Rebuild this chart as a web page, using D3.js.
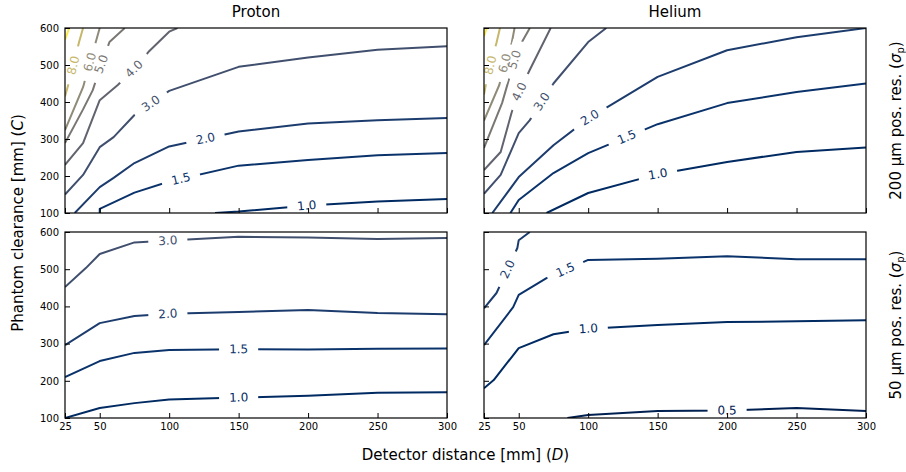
<!DOCTYPE html>
<html>
<head>
<meta charset="utf-8">
<script src="https://cdn.jsdelivr.net/npm/d3@7"></script>
<style>
  body { margin: 0; background: #fff; }
  svg { display: block; font-family: "DejaVu Sans", sans-serif; }
</style>
</head>
<body>
<div id="chart"></div>
<script>
// contour levels shared by all four panels (colour norm runs over this range)
const levels = [0.5, 1, 1.5, 2, 3, 4, 5, 6, 8, 10];
const xTicks = [25, 50, 100, 150, 200, 250, 300];
const yTicks = [100, 200, 300, 400, 500, 600];
const columnTitles = ['Proton', 'Helium'];
const rowTitles = ['200 μm pos. res.', '50 μm pos. res.'];

// contour paths: [detector distance D, phantom clearance C]
const protonRes200 = [
  { level: 10,  points: [[25,568],[28,600]] },
  { level: 8,   points: [[25,415],[29,468],[32,515],[35,560],[38,600]] },
  { level: 6,   points: [[25,324],[38,440],[43,508],[47,560],[50,600]] },
  { level: 5,   points: [[25,289],[38,380],[45,432],[50,490],[57,562],[68,600]] },
  { level: 4,   points: [[25,230],[38,289],[50,405],[63,446],[75,490],[85,535],[100,590],[106,600]] },
  { level: 3,   points: [[25,150],[38,203],[50,278],[60,305],[75,365],[100,430],[150,495],[200,520],[250,541],[300,551]] },
  { level: 2,   points: [[32,100],[50,170],[60,195],[75,235],[100,280],[150,320],[200,342],[250,351],[300,357]] },
  { level: 1.5, points: [[50,100],[50,111],[75,155],[100,185],[150,228],[200,243],[250,256],[300,262]] },
  { level: 1,   points: [[133,100],[150,104],[200,120],[250,131],[300,138]] }
];
const heliumRes200 = [
  { level: 10,  points: [[25,578],[27,600]] },
  { level: 8,   points: [[25,420],[27,460],[30,505],[34,560],[36.5,600]] },
  { level: 6,   points: [[25,350],[36,446],[40,505],[45,560],[47,600]] },
  { level: 5,   points: [[25,276],[38,397],[47,514],[52,560],[58,600]] },
  { level: 4,   points: [[25,216],[37,265],[45,373],[50,425],[58,487],[73,600]] },
  { level: 3,   points: [[25,152],[37,203],[50,316],[58,351],[75,450],[100,562],[113,600]] },
  { level: 2,   points: [[31,100],[50,197],[75,283],[100,355],[150,468],[200,540],[250,575],[300,600]] },
  { level: 1.5, points: [[44,100],[50,135],[75,208],[100,262],[150,340],[200,397],[250,427],[300,450]] },
  { level: 1,   points: [[70,100],[100,154],[150,205],[200,238],[250,265],[300,277]] }
];
const protonRes50 = [
  { level: 3,   points: [[25,452],[40,503],[50,541],[75,572],[100,577],[150,587],[200,585],[250,581],[300,584]] },
  { level: 2,   points: [[25,296],[50,355],[75,374],[100,380],[150,385],[200,390],[250,382],[300,379]] },
  { level: 1.5, points: [[25,210],[50,253],[75,275],[100,283],[150,285],[200,284],[250,286],[300,287]] },
  { level: 1,   points: [[25,100],[50,127],[75,140],[100,150],[150,155],[200,160],[250,168],[300,169]] }
];
const heliumRes50 = [
  { level: 2,   points: [[25,395],[34,436],[42,500],[49,557],[50,578],[58,600]] },
  { level: 1.5, points: [[25,296],[46,398],[50,431],[70,476],[100,525],[150,528],[200,535],[250,527],[300,527]] },
  { level: 1,   points: [[25,180],[32,202],[50,288],[75,325],[100,340],[150,350],[200,358],[250,360],[300,363]] },
  { level: 0.5, points: [[85,100],[100,108],[150,119],[200,120],[250,127],[300,119]] }
];

// where the inline labels sit: [level, D, C]
const protonRes200Labels = [[8,30,500],[6,43,508],[5,49,505],[4,74,492],[3,86,400],[2,126,303],[1.5,108,200],[1,199,122]];
const heliumRes200Labels = [[8,29,500],[6,40,505],[5,47,514],[4,51,427],[3,67,400],[2,100,365],[1.5,128,303],[1,150,208]];
const protonRes50Labels  = [[3,99,578],[2,99,382],[1.5,150,285],[1,150,155]];
const heliumRes50Labels  = [[2,42,500],[1.5,83,503],[1,100,345],[0.5,200,120]];

const width = 906;
const height = 472;
const colX = [[65, 447], [484, 866]];
const rowY = [[28, 213], [232, 418]];

const svg = d3.select('#chart').append('svg')
  .attr('width', width)
  .attr('height', height);
const defs = svg.append('defs');

const color = d3.scaleSequential(d3.interpolateCividis)
  .domain(d3.extent(levels));
const fmt = d3.format('.1f');

const panels = [
  { row: 0, col: 0, lines: protonRes200, labels: protonRes200Labels },
  { row: 0, col: 1, lines: heliumRes200, labels: heliumRes200Labels },
  { row: 1, col: 0, lines: protonRes50,  labels: protonRes50Labels },
  { row: 1, col: 1, lines: heliumRes50,  labels: heliumRes50Labels }
];

panels.forEach((p, i) => {
  const [x0, x1] = colX[p.col];
  const [y0, y1] = rowY[p.row];
  const x = d3.scaleLinear().domain([25, 300]).range([x0, x1]);
  const y = d3.scaleLinear().domain([100, 600]).range([y1, y0]);

  defs.append('clipPath').attr('id', 'clip' + i)
    .append('rect')
    .attr('x', x0).attr('y', y0)
    .attr('width', x1 - x0).attr('height', y1 - y0);

  const mask = defs.append('mask').attr('id', 'mask' + i)
    .attr('maskUnits', 'userSpaceOnUse')
    .attr('x', 0).attr('y', 0).attr('width', width).attr('height', height);
  mask.append('rect')
    .attr('width', width).attr('height', height)
    .attr('fill', 'white');

  const line = d3.line().x(d => x(d[0])).y(d => y(d[1]));

  svg.append('g')
    .attr('clip-path', `url(#clip${i})`)
    .append('g')
    .attr('mask', `url(#mask${i})`)
    .selectAll('path')
    .data(p.lines)
    .join('path')
    .attr('d', d => line(d.points))
    .attr('fill', 'none')
    .attr('stroke', d => color(d.level))
    .attr('stroke-width', 2)
    .attr('stroke-linejoin', 'round');

  // inline labels: snap to nearest point on the line, rotate along it,
  // and cut a gap out of the line through the mask
  const labelG = svg.append('g');
  p.labels.forEach(([lvl, D, C]) => {
    const ln = p.lines.find(l => l.level === lvl);
    const pts = ln.points.map(q => [x(q[0]), y(q[1])]);
    const tx = x(D), ty = y(C);
    let best = { dist: Infinity };
    for (let k = 0; k < pts.length - 1; k++) {
      const [ax, ay] = pts[k], [bx, by] = pts[k + 1];
      const dx = bx - ax, dy = by - ay;
      const len2 = dx * dx + dy * dy || 1;
      const t = Math.max(0, Math.min(1, ((tx - ax) * dx + (ty - ay) * dy) / len2));
      const px = ax + t * dx, py = ay + t * dy;
      const dist = Math.hypot(px - tx, py - ty);
      if (dist < best.dist) best = { dist, px, py, dx, dy };
    }
    let ang = Math.atan2(best.dy, best.dx) * 180 / Math.PI;
    if (ang > 90) ang -= 180;
    if (ang < -90) ang += 180;
    const tr = `translate(${best.px},${best.py}) rotate(${ang})`;

    const t = labelG.append('text')
      .attr('transform', tr)
      .attr('text-anchor', 'middle')
      .attr('dominant-baseline', 'central')
      .attr('font-size', '12px')
      .attr('fill', color(lvl))
      .text(fmt(lvl));
    const w = t.node().getComputedTextLength();
    mask.append('rect')
      .attr('transform', tr)
      .attr('x', -w / 2 - 10).attr('y', -7)
      .attr('width', w + 20).attr('height', 14)
      .attr('fill', 'black');
  });

  // axes with inward ticks
  const ax = svg.append('g')
    .attr('transform', `translate(0,${y1})`)
    .call(d3.axisBottom(x).tickValues(xTicks).tickSizeInner(-5).tickSizeOuter(0).tickPadding(5));
  const ay = svg.append('g')
    .attr('transform', `translate(${x0},0)`)
    .call(d3.axisLeft(y).tickValues(yTicks).tickSizeInner(-5).tickSizeOuter(0).tickPadding(6));
  [ax, ay].forEach(a => {
    a.attr('font-family', null).attr('font-size', '10px');
    a.select('.domain').remove();
    a.selectAll('.tick line').attr('stroke', '#000');
    a.selectAll('.tick text').attr('fill', '#000');
  });
  if (p.row === 0) ax.selectAll('.tick text').remove();
  if (p.col === 1) ay.selectAll('.tick text').remove();

  svg.append('rect')
    .attr('x', x0).attr('y', y0)
    .attr('width', x1 - x0).attr('height', y1 - y0)
    .attr('fill', 'none')
    .attr('stroke', '#000')
    .attr('stroke-width', 1.2);
});

// column titles
svg.selectAll('.col-title')
  .data(columnTitles)
  .join('text')
  .attr('class', 'col-title')
  .attr('x', (d, i) => (colX[i][0] + colX[i][1]) / 2)
  .attr('y', 17)
  .attr('text-anchor', 'middle')
  .attr('font-size', '15px')
  .text(d => d);

// row titles on the right
rowTitles.forEach((d, i) => {
  const cy = (rowY[i][0] + rowY[i][1]) / 2;
  const t = svg.append('text')
    .attr('transform', `translate(901,${cy}) rotate(-90)`)
    .attr('text-anchor', 'middle')
    .attr('font-size', '15px');
  t.append('tspan').text(d + ' (');
  t.append('tspan').attr('font-style', 'italic').text('σ');
  t.append('tspan').attr('font-size', '10px').attr('dy', 3).text('p');
  t.append('tspan').attr('dy', -3).text(')');
});

// shared axis titles
const xt = svg.append('text')
  .attr('x', (colX[0][0] + colX[1][1]) / 2)
  .attr('y', 460)
  .attr('text-anchor', 'middle')
  .attr('font-size', '15px');
xt.append('tspan').text('Detector distance [mm] (');
xt.append('tspan').attr('font-style', 'italic').text('D');
xt.append('tspan').text(')');

const yt = svg.append('text')
  .attr('transform', `translate(23,${(rowY[0][0] + rowY[1][1]) / 2}) rotate(-90)`)
  .attr('text-anchor', 'middle')
  .attr('font-size', '15px');
yt.append('tspan').text('Phantom clearance [mm] (');
yt.append('tspan').attr('font-style', 'italic').text('C');
yt.append('tspan').text(')');
</script>
</body>
</html>
